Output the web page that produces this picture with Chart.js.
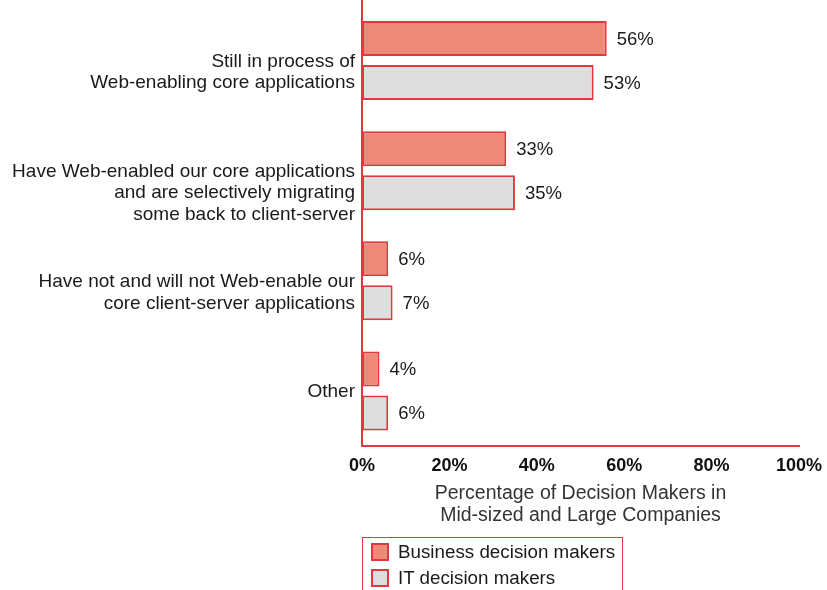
<!DOCTYPE html>
<html>
<head>
<meta charset="utf-8">
<script src="https://cdn.jsdelivr.net/npm/chart.js@4"></script>
<style>
  html, body { margin: 0; padding: 0; background: #fff; }
  #wrap { position: relative; width: 827px; height: 590px; overflow: hidden; }
  #legend { position: absolute; left: 362px; top: 537px; width: 259px; height: 70px;
    border: 1.5px solid #e2373f; font-family: "Liberation Sans", Arial, sans-serif; font-size: 18.8px; color: #1a1a1a; }
  .item { position: absolute; left: 8px; height: 18px; line-height: 18px; }
  .sw { position: absolute; left: 0; top: 0; width: 14px; height: 14px; border: 2px solid #e2373f; }
  .lbl { position: absolute; left: 27px; top: 0; white-space: nowrap; }
</style>
</head>
<body>
<div id="wrap">
  <canvas id="c" width="827" height="590"></canvas>
  <div id="legend">
    <div class="item" style="top:5px;"><div class="sw" style="background:#ee8a7a"></div><div class="lbl" id="l0"></div></div>
    <div class="item" style="top:31px;"><div class="sw" style="background:#dedede"></div><div class="lbl" id="l1"></div></div>
  </div>
</div>
<script>
const categories = [
  ["Still in process of", "Web-enabling core applications"],
  ["Have Web-enabled our core applications", "and are selectively migrating", "some back to client-server"],
  ["Have not and will not Web-enable our", "core client-server applications"],
  ["Other"]
];
const seriesNames = ["Business decision makers", "IT decision makers"];
const businessValues = [56, 33, 6, 4];
const itValues = [53, 35, 7, 6];
const xTicks = [0, 20, 40, 60, 80, 100];
const axisTitle = ["Percentage of Decision Makers in", "Mid-sized and Large Companies"];

document.getElementById('l0').textContent = seriesNames[0];
document.getElementById('l1').textContent = seriesNames[1];

const FONT = '"Liberation Sans", Arial, sans-serif';
const RED = '#e2373f';

const extras = {
  id: 'extras',
  afterDatasetsDraw(chart) {
    const ctx = chart.ctx;
    const ys = chart.scales.y;
    ctx.save();
    // data labels
    ctx.font = '18.5px ' + FONT;
    ctx.fillStyle = '#1a1a1a';
    ctx.textBaseline = 'middle';
    ctx.textAlign = 'left';
    chart.data.datasets.forEach((ds, di) => {
      const meta = chart.getDatasetMeta(di);
      meta.data.forEach((bar, i) => {
        ctx.fillText(ds.data[i] + '%', bar.x + 10, bar.y + 1);
      });
    });
    // category labels: first line at category center
    ctx.font = '19px ' + FONT;
    ctx.textAlign = 'right';
    categories.forEach((lines, i) => {
      const cy = ys.getPixelForValue(i);
      lines.forEach((ln, k) => {
        ctx.fillText(ln, chart.chartArea.left - 7, cy + 1 + k * 21.5);
      });
    });
    // axis title
    ctx.font = '19.5px ' + FONT;
    ctx.textAlign = 'center';
    ctx.fillStyle = '#333';
    const cx = (chart.chartArea.left + chart.chartArea.right) / 2;
    axisTitle.forEach((ln, k) => {
      ctx.fillText(ln, cx, 494 + k * 22);
    });
    // extend y axis line to top
    ctx.strokeStyle = RED;
    ctx.lineWidth = 2;
    ctx.beginPath();
    ctx.moveTo(chart.chartArea.left, 0);
    ctx.lineTo(chart.chartArea.left, chart.chartArea.top);
    ctx.stroke();
    ctx.restore();
  }
};

new Chart(document.getElementById('c'), {
  type: 'bar',
  data: {
    labels: categories.map(c => c.join(' ')),
    datasets: [
      { label: seriesNames[0], data: businessValues, backgroundColor: '#ee8a7a', borderColor: RED, borderWidth: 2, borderSkipped: false },
      { label: seriesNames[1], data: itValues, backgroundColor: '#dedede', borderColor: RED, borderWidth: 2, borderSkipped: false }
    ]
  },
  options: {
    indexAxis: 'y',
    responsive: false,
    animation: false,
    devicePixelRatio: 1,
    categoryPercentage: 0.8,
    barPercentage: 0.795,
    layout: { padding: { top: 5.5, right: 28, left: 0, bottom: 0 } },
    plugins: { legend: { display: false }, tooltip: { enabled: false } },
    scales: {
      x: {
        min: 0, max: 100,
        afterFit(s) { s.height = 144; },
        afterBuildTicks(s) { s.ticks = xTicks.map(v => ({ value: v })); },
        grid: { display: false },
        border: { display: true, color: RED, width: 2 },
        ticks: {
          padding: 1,
          color: '#111',
          font: { family: FONT, size: 18, weight: 'bold' },
          callback: v => v + '%',
          maxRotation: 0
        }
      },
      y: {
        afterFit(s) { s.width = 362; },
        grid: { display: false },
        border: { display: true, color: RED, width: 2 },
        ticks: { display: false }
      }
    }
  },
  plugins: [extras]
});
</script>
</body>
</html>
